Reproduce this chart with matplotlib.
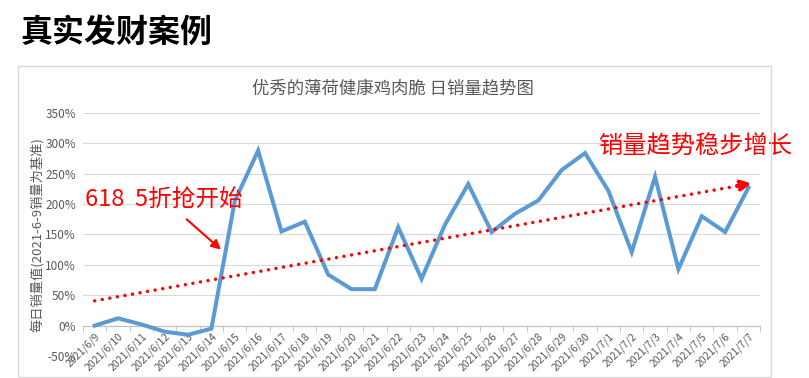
import numpy as np
import matplotlib
matplotlib.use("Agg")
import matplotlib.pyplot as plt
from matplotlib.patches import Rectangle

plt.rcParams['font.family'] = ['Noto Sans CJK SC', 'DejaVu Sans']

# daily sales relative to 2021-6-9 (%)
dates = ["2021/6/9", "2021/6/10", "2021/6/11", "2021/6/12", "2021/6/13", "2021/6/14",
         "2021/6/15", "2021/6/16", "2021/6/17", "2021/6/18", "2021/6/19", "2021/6/20",
         "2021/6/21", "2021/6/22", "2021/6/23", "2021/6/24", "2021/6/25", "2021/6/26",
         "2021/6/27", "2021/6/28", "2021/6/29", "2021/6/30", "2021/7/1", "2021/7/2",
         "2021/7/3", "2021/7/4", "2021/7/5", "2021/7/6", "2021/7/7"]
sales = [0, 12, 2, -10, -15, -5, 205, 288, 155, 171, 84, 60, 60, 162, 77, 166,
         233, 154, 184, 206, 256, 284, 222, 121, 245, 93, 180, 154, 227]
yticks = [-50, 0, 50, 100, 150, 200, 250, 300, 350]

x = np.arange(len(dates))
slope, icpt = np.polyfit(x, sales, 1)

fig = plt.figure(figsize=(8.09, 3.78), dpi=100)
fig.text(0.025, 0.913, "真实发财案例", fontsize=23, fontweight="bold", va="center", ha="left")
fig.patches.append(Rectangle((0.0222, 0.003), 0.931, 0.822, transform=fig.transFigure,
                             fill=False, edgecolor="#D9D9D9", linewidth=1))
fig.text(0.486, 0.767, "优秀的薄荷健康鸡肉脆 日销量趋势图", fontsize=12.5,
         color="#595959", ha="center", va="center")

ax = fig.add_axes([0.1026, 0.0582, 0.837, 0.643])
ax.set_xlim(-0.5, len(dates) - 0.5)
ax.set_ylim(-50, 350)
ax.set_yticks(yticks)
ax.set_yticklabels([f"{v}%" for v in yticks], fontsize=8.5, color="#595959")
ax.tick_params(axis="y", length=0, pad=5)
ax.grid(axis="y", color="#D9D9D9", linewidth=0.8)
ax.set_axisbelow(True)
for s in ["top", "right", "left"]:
    ax.spines[s].set_visible(False)
ax.spines["bottom"].set_position(("data", 0))
ax.spines["bottom"].set_color("#BFBFBF")

ax.set_xticks(x)
ax.set_xticklabels(dates, rotation=45, ha="right", rotation_mode="anchor",
                   fontsize=7.5, color="#595959")
ax.set_xticks(np.arange(len(dates) + 1) - 0.5, minor=True)
ax.tick_params(axis="x", which="major", length=0, pad=4)
ax.tick_params(axis="x", which="minor", length=4, color="#BFBFBF")

fig.text(0.046, 0.38, "每日销量值(2021-6-9销量为基准)", rotation=90, fontsize=9.5,
         color="#595959", ha="center", va="center")

ax.plot(x, sales, color="#5B9BD5", linewidth=2.9, solid_joinstyle="miter", zorder=3)

# trend line (excel style linear trendline)
tx = np.array([0, 27.6])
ax.plot(tx, slope * tx + icpt, color="red", linewidth=2.5, linestyle=(0, (0.01, 2.2)),
        dash_capstyle="round", zorder=4)
ax.annotate("", xy=(28.25, slope * 28.25 + icpt), xytext=(27.4, slope * 27.4 + icpt),
            arrowprops=dict(arrowstyle="->", color="red", lw=3, mutation_scale=14),
            zorder=5)

ax.text(2.95, 207, "618  5折抢开始", color="red", fontsize=17, ha="center", va="center")
ax.annotate("", xy=(5.5, 122), xytext=(3.85, 178),
            arrowprops=dict(arrowstyle="-|>", color="red", lw=1.5, mutation_scale=14))
ax.text(25.7, 294, "销量趋势稳步增长", color="red", fontsize=17.5, ha="center", va="center")

fig.savefig("out.png", dpi=100)
